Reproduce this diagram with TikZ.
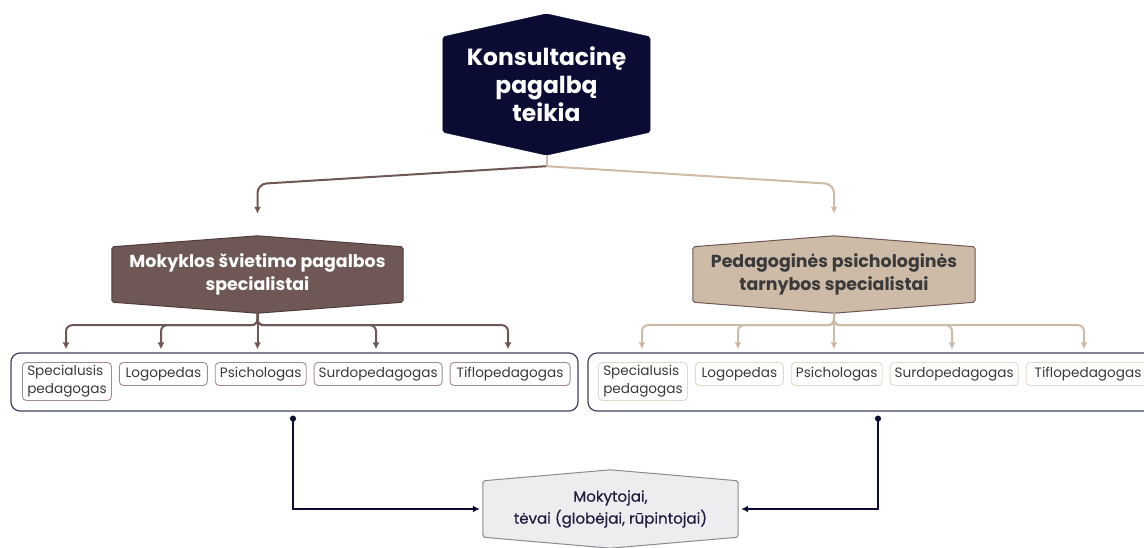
\documentclass[tikz,border=0pt]{standalone}
\usepackage{fontspec}
\setmainfont{Poppins}
\newfontfamily\medfont{Poppins}[FakeBold=0.5]
\usepackage{tikz}
\usetikzlibrary{positioning,backgrounds,arrows.meta}

\definecolor{navy}{HTML}{0B0C33}
\definecolor{brownc}{HTML}{6F5755}
\definecolor{tanc}{HTML}{CDBBA7}
\definecolor{palec}{HTML}{EDEDF0}
\definecolor{paleline}{HTML}{8A8A90}
\definecolor{grpline}{HTML}{3E405F}
\definecolor{itembrown}{HTML}{A08C89}
\definecolor{itemtan}{HTML}{E3D7CA}
\definecolor{txtgray}{HTML}{3A3A3A}

% hexagon round a node: apex at north/south, shoulders #2 lower/higher
\newcommand{\hexpath}[2]{([yshift=-#2]#1.north west) -- (#1.north) -- ([yshift=-#2]#1.north east) -- ([yshift=#2]#1.south east) -- (#1.south) -- ([yshift=#2]#1.south west) -- cycle}

\begin{document}
\begin{tikzpicture}[x=1pt,y=-1pt,
	hexa/.style={inner sep=0pt, align=center},
	item/.style={draw, rounded corners=4pt, line width=0.9pt, minimum height=23pt, inner xsep=4pt, inner ysep=3pt, anchor=north west, font=\fontsize{13.6}{18}\selectfont, text=txtgray, align=left},
	group/.style={draw=grpline, line width=1.2pt, rounded corners=9pt, minimum height=58pt},
	brownline/.style={draw=brownc, line width=2pt, -{Latex[length=7pt,width=7pt]}},
	tanline/.style={draw=tanc, line width=2pt, -{Latex[length=7pt,width=7pt]}},
	navyline/.style={draw=navy, line width=1.8pt, {Circle[length=6pt]}-{Latex[length=7pt,width=7pt]}}]
	\useasboundingbox (0,0) rectangle (1144,547);

	% hexagons
	\node[hexa, minimum width=207pt, minimum height=141pt, text=white, font=\bfseries\fontsize{23.4}{28}\selectfont] (top) at (546.5,84.5) {Konsultacinę\\pagalbą\\teikia};
	\node[hexa, minimum width=291pt, minimum height=77pt, text=white, font=\bfseries\fontsize{17.4}{23}\selectfont] (mokykla) at (257.5,274.5) {Mokyklos švietimo pagalbos\\specialistai};
	\node[hexa, minimum width=282pt, minimum height=77pt, text=txtgray, font=\bfseries\fontsize{17.4}{23}\selectfont] (tarnyba) at (834,274.5) {Pedagoginės psichologinės\\tarnybos specialistai};
	\node[hexa, minimum width=255pt, minimum height=78pt, text=navy!85!gray, font=\medfont\fontsize{15}{22}\selectfont] (tevai) at (610.5,509) {Mokytojai,\\tėvai (globėjai, rūpintojai)};

	\begin{scope}[on background layer]
		\filldraw[fill=navy, draw=navy, rounded corners=2pt] \hexpath{top}{23pt};
		\filldraw[fill=brownc, draw=brownc!70!black, line width=1pt, rounded corners=2pt] \hexpath{mokykla}{11pt};
		\filldraw[fill=tanc, draw=brownc, line width=1pt, rounded corners=2pt] \hexpath{tarnyba}{11pt};
		\filldraw[fill=palec, draw=paleline, line width=1pt, rounded corners=2pt] \hexpath{tevai}{11pt};
	\end{scope}

	% groups of specialists
	\node[group, minimum width=567pt] (gl) at (294.5,382) {};
	\node[group, minimum width=580pt] (gr) at (878,382) {};

	\node[item, draw=itembrown, minimum width=89pt] (l1) at (22,362) {Specialusis\\pedagogas};
	\node[item, draw=itembrown, minimum width=88pt, right=7pt of l1.north east, anchor=north west] (l2) {Logopedas};
	\node[item, draw=itembrown, minimum width=91pt, right=7pt of l2.north east, anchor=north west] (l3) {Psichologas};
	\node[item, draw=itembrown, minimum width=128pt, right=7pt of l3.north east, anchor=north west] (l4) {Surdopedagogas};
	\node[item, draw=itembrown, minimum width=120pt, right=7pt of l4.north east, anchor=north west] (l5) {Tiflopedagogas};

	\node[item, draw=itemtan, minimum width=89pt] (r1) at (598,362) {Specialusis\\pedagogas};
	\node[item, draw=itemtan, minimum width=88pt, right=7pt of r1.north east, anchor=north west] (r2) {Logopedas};
	\node[item, draw=itemtan, minimum width=91pt, right=7pt of r2.north east, anchor=north west] (r3) {Psichologas};
	\node[item, draw=itemtan, minimum width=128pt, right=7pt of r3.north east, anchor=north west] (r4) {Surdopedagogas};
	\node[item, draw=itemtan, minimum width=124pt, right=7pt of r4.north east, anchor=north west] (r5) {Tiflopedagogas};

	% top branches
	\draw[draw=tanc, line width=2pt] (top.south) -- ++(0,11) coordinate (j0);
	\draw[brownline, rounded corners=9pt] (j0) -- (mokykla.north |- 0,184) -- ([yshift=22pt]mokykla.north);
	\draw[tanline, rounded corners=9pt] (j0) -- (tarnyba.north |- 0,184) -- ([yshift=22pt]tarnyba.north);

	% down to the groups
	\draw[brownline] (mokykla.south) -- ([yshift=3pt]gl.north -| mokykla.south);
	\foreach \x in {66,161,376,508}
		\draw[brownline, rounded corners=6pt] (mokykla.south) -- ++(0,12) -| ([yshift=3pt]gl.north -| \x,0);
	\draw[tanline] (tarnyba.south) -- ([yshift=3pt]gr.north -| tarnyba.south);
	\foreach \x in {642,738,952,1084}
		\draw[tanline, rounded corners=6pt] (tarnyba.south) -- ++(0,12) -| ([yshift=3pt]gr.north -| \x,0);

	% to teachers and parents
	\draw[navyline] ([yshift=-4pt]gl.south -| 293,0) |- ([xshift=-3pt]tevai.west);
	\draw[navyline] ([yshift=-4pt]gr.south) |- ([xshift=3pt]tevai.east);
\end{tikzpicture}
\end{document}
